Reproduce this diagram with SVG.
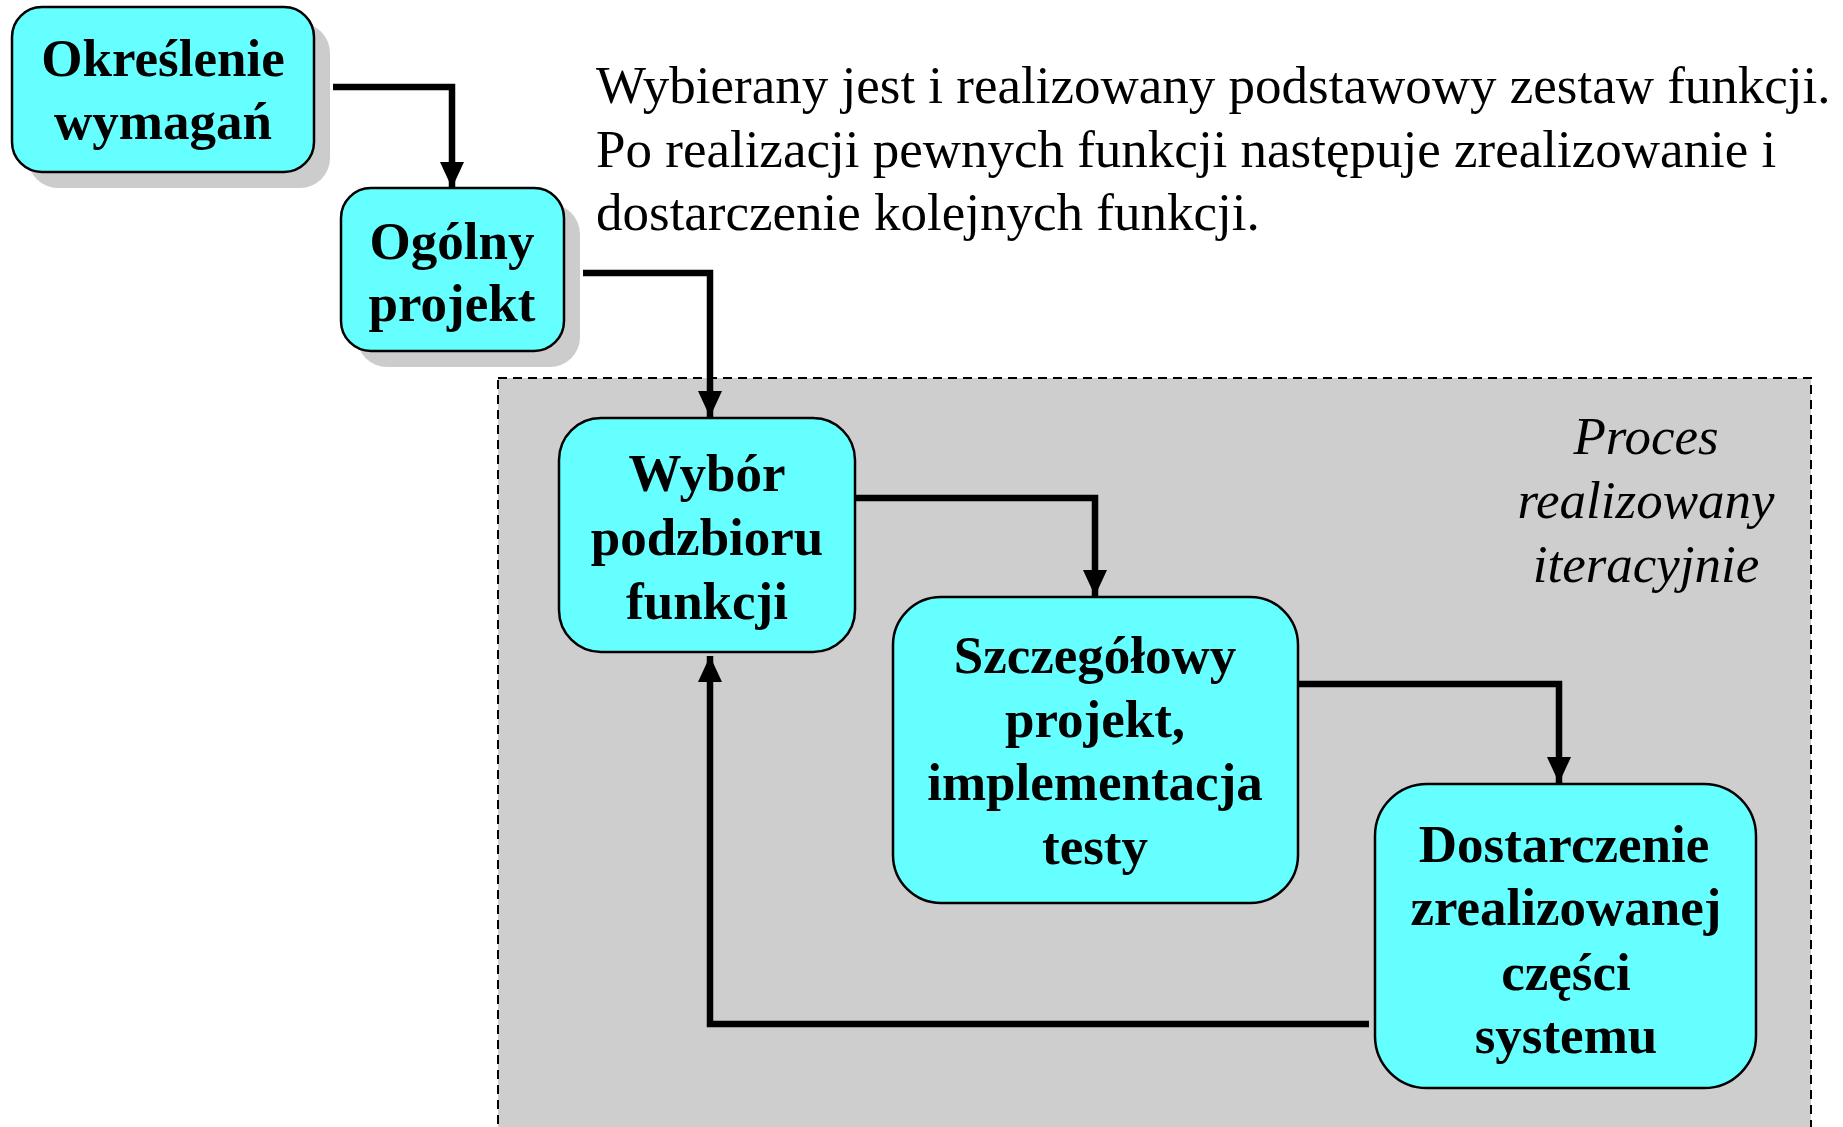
<svg xmlns="http://www.w3.org/2000/svg" width="1843" height="1127" viewBox="0 0 1843 1127">
<style>
.node{fill:#66ffff;stroke:#000;stroke-width:2.5}
.shadow{fill:#cccccc}
.lbl{font-family:"Liberation Serif","Times New Roman",serif;font-weight:bold;font-size:53px;text-anchor:middle;fill:#000}
.note{font-family:"Liberation Serif","Times New Roman",serif;font-size:53px;fill:#000}
.it{font-family:"Liberation Serif","Times New Roman",serif;font-style:italic;font-size:53px;text-anchor:middle;fill:#000}
.conn{fill:none;stroke:#000;stroke-width:6.5;stroke-linejoin:miter}
</style>
<defs>
<marker id="ah" viewBox="0 0 26 24" refX="26" refY="12" markerWidth="26" markerHeight="24" markerUnits="userSpaceOnUse" orient="auto">
<path d="M0,0 L26,12 L0,24 z" fill="#000"/>
</marker>
</defs>
<rect width="1843" height="1127" fill="#fff"/>
<g id="container">
<rect x="498" y="378" width="1313" height="800" fill="#cecece" stroke="#000" stroke-width="2" stroke-dasharray="9,6"/>
<text class="it"><tspan x="1646" y="454">Proces</tspan><tspan x="1646" y="518">realizowany</tspan><tspan x="1646" y="582">iteracyjnie</tspan></text>
</g>
<g id="note">
<text class="note"><tspan x="596" y="103">Wybierany jest i realizowany podstawowy zestaw funkcji.</tspan><tspan x="596" y="167">Po realizacji pewnych funkcji następuje zrealizowanie i</tspan><tspan x="596" y="230">dostarczenie kolejnych funkcji.</tspan></text>
</g>
<g id="n1">
<rect class="shadow" x="28" y="23" width="302" height="165" rx="30"/>
<rect class="node" x="12" y="7" width="302" height="165" rx="30"/>
<text class="lbl"><tspan x="163" y="76">Określenie</tspan><tspan x="163" y="139">wymagań</tspan></text>
</g>
<g id="n2">
<rect class="shadow" x="357" y="204" width="223" height="163" rx="30"/>
<rect class="node" x="341" y="188" width="223" height="163" rx="30"/>
<text class="lbl"><tspan x="452" y="259">Ogólny</tspan><tspan x="452" y="321">projekt</tspan></text>
</g>
<g id="n3">
<rect class="node" x="559" y="418" width="296" height="234" rx="42"/>
<text class="lbl"><tspan x="707" y="491">Wybór</tspan><tspan x="707" y="555">podzbioru</tspan><tspan x="707" y="619">funkcji</tspan></text>
</g>
<g id="n4">
<rect class="node" x="893" y="597" width="405" height="306" rx="48"/>
<text class="lbl"><tspan x="1095" y="673">Szczegółowy</tspan><tspan x="1095" y="737">projekt,</tspan><tspan x="1095" y="800">implementacja</tspan><tspan x="1095" y="864">testy</tspan></text>
</g>
<g id="n5">
<rect class="node" x="1375" y="784" width="381" height="304" rx="52"/>
<text class="lbl"><tspan x="1564" y="862">Dostarczenie</tspan><tspan x="1566" y="925">zrealizowanej</tspan><tspan x="1566" y="990">części</tspan><tspan x="1566" y="1053">systemu</tspan></text>
</g>
<g id="connectors">
<path class="conn" d="M333,87 H452 V188" marker-end="url(#ah)"/>
<path class="conn" d="M583,273 H710 V417" marker-end="url(#ah)"/>
<path class="conn" d="M855,498 H1095 V596" marker-end="url(#ah)"/>
<path class="conn" d="M1298,684 H1559 V783" marker-end="url(#ah)"/>
<path class="conn" d="M1369,1024 H710 V656" marker-end="url(#ah)"/>
</g>
</svg>
